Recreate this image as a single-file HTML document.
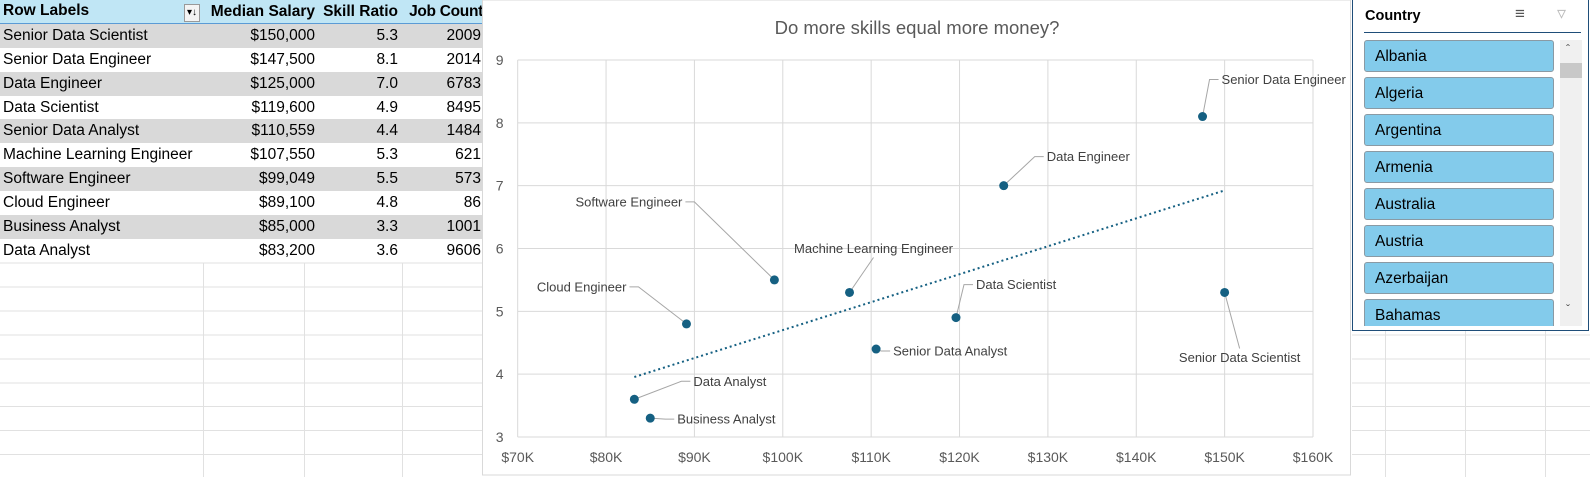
<!DOCTYPE html>
<html><head><meta charset="utf-8"><style>
body{margin:0;width:1590px;height:477px;overflow:hidden;background:#fff;font-family:"Liberation Sans",sans-serif;position:relative}
.grid{position:absolute;left:0;top:0}
table{position:absolute;left:0;top:0;border-collapse:collapse;font-size:15.5px;color:#000;table-layout:fixed}
td{height:23.9px;padding:0 3px;white-space:nowrap;box-sizing:border-box;overflow:visible}
tr.hd td{background:#c0e6f5;font-weight:bold;border-bottom:1px solid #5b9bd5}
tr.b td{background:#d9d9d9}
.r{text-align:right}
#chart{position:absolute;left:482px;top:0}
#slicer{position:absolute;left:1352px;top:0;width:237px;height:331px;border:1px solid #1f4e79;border-top:none;background:#fff;box-sizing:border-box}
.btn{position:absolute;left:11px;width:190px;height:32px;background:#83cbeb;border:1px solid #8a9aa4;border-radius:3px;font-size:15.5px;line-height:32px;padding-left:10px;box-sizing:border-box}
</style></head><body>
<svg class="grid" width="1590" height="477">
<g stroke="#e1e1e1" stroke-width="1">
<line x1="0" y1="263" x2="482" y2="263"/><line x1="0" y1="287" x2="482" y2="287"/><line x1="0" y1="311" x2="482" y2="311"/><line x1="0" y1="335" x2="482" y2="335"/><line x1="0" y1="359" x2="482" y2="359"/><line x1="0" y1="383" x2="482" y2="383"/><line x1="0" y1="406.5" x2="482" y2="406.5"/><line x1="0" y1="430.5" x2="482" y2="430.5"/><line x1="0" y1="454.5" x2="482" y2="454.5"/>
<line x1="203.5" y1="263" x2="203.5" y2="477"/><line x1="304.5" y1="263" x2="304.5" y2="477"/><line x1="402.5" y1="263" x2="402.5" y2="477"/>
<line x1="1352" y1="335" x2="1590" y2="335"/><line x1="1352" y1="359" x2="1590" y2="359"/><line x1="1352" y1="383" x2="1590" y2="383"/><line x1="1352" y1="406.5" x2="1590" y2="406.5"/><line x1="1352" y1="430.5" x2="1590" y2="430.5"/><line x1="1352" y1="454.5" x2="1590" y2="454.5"/>
<line x1="1385.5" y1="331" x2="1385.5" y2="477"/><line x1="1465.5" y1="331" x2="1465.5" y2="477"/><line x1="1545.5" y1="331" x2="1545.5" y2="477"/>
</g></svg>
<table>
<colgroup><col style="width:203px"><col style="width:115px"><col style="width:83px"><col style="width:83px"></colgroup>
<tr class="hd"><td>Row Labels <span style="float:right;border:1px solid #999;background:#f4f4f4;font-size:10px;padding:0 2px;line-height:16px;font-weight:normal;margin-top:2px">&#9662;&#8595;</span></td><td class="r">Median Salary</td><td class="r">Skill Ratio</td><td class="r" style="padding-right:1px;letter-spacing:-0.3px">Job Count</td></tr>
<tr class="b"><td>Senior Data Scientist</td><td class="r">$150,000</td><td class="r">5.3</td><td class="r">2009</td></tr>
<tr><td>Senior Data Engineer</td><td class="r">$147,500</td><td class="r">8.1</td><td class="r">2014</td></tr>
<tr class="b"><td>Data Engineer</td><td class="r">$125,000</td><td class="r">7.0</td><td class="r">6783</td></tr>
<tr><td>Data Scientist</td><td class="r">$119,600</td><td class="r">4.9</td><td class="r">8495</td></tr>
<tr class="b"><td>Senior Data Analyst</td><td class="r">$110,559</td><td class="r">4.4</td><td class="r">1484</td></tr>
<tr><td>Machine Learning Engineer</td><td class="r">$107,550</td><td class="r">5.3</td><td class="r">621</td></tr>
<tr class="b"><td>Software Engineer</td><td class="r">$99,049</td><td class="r">5.5</td><td class="r">573</td></tr>
<tr><td>Cloud Engineer</td><td class="r">$89,100</td><td class="r">4.8</td><td class="r">86</td></tr>
<tr class="b"><td>Business Analyst</td><td class="r">$85,000</td><td class="r">3.3</td><td class="r">1001</td></tr>
<tr><td>Data Analyst</td><td class="r">$83,200</td><td class="r">3.6</td><td class="r">9606</td></tr>
</table>
<svg id="chart" width="870" height="477">
<rect x="0.5" y="0" width="868" height="475" fill="#fff" stroke="#d9d9d9"/>
<text x="435" y="34" text-anchor="middle" font-size="18.5" fill="#595959">Do more skills equal more money?</text>
<g id="g"></g>
</svg>
<div id="slicer">
<div style="position:absolute;left:12px;top:8px;font-weight:bold;font-size:14.5px">Country</div>
<div style="position:absolute;left:162px;top:4px;font-size:17px;color:#555">&#8801;</div>
<div style="position:absolute;left:204px;top:3px;font-size:18px;color:#bbb">&#9663;</div>
<div style="position:absolute;left:11px;top:32px;width:217px;height:1px;background:#1f4e79"></div>
<div style="position:absolute;left:207px;top:40px;width:22px;height:286px;background:#f0f0f0">
<div style="position:absolute;left:6px;top:2px;font-size:12px;color:#555">&#710;</div>
<div style="position:absolute;left:0;top:23px;width:22px;height:15px;background:#c8c8c8"></div>
<div style="position:absolute;left:6px;top:262px;font-size:12px;color:#555">&#711;</div></div>
<div class="btn" style="top:40px">Albania</div>
<div class="btn" style="top:77px">Algeria</div>
<div class="btn" style="top:114px">Argentina</div>
<div class="btn" style="top:151px">Armenia</div>
<div class="btn" style="top:188px">Australia</div>
<div class="btn" style="top:225px">Austria</div>
<div class="btn" style="top:262px">Azerbaijan</div>
<div class="btn" style="top:299px;height:27px;border-bottom:none;border-radius:3px 3px 0 0">Bahamas</div>
</div>
<script>
const roles=["Senior Data Scientist","Senior Data Engineer","Data Engineer","Data Scientist","Senior Data Analyst","Machine Learning Engineer","Software Engineer","Cloud Engineer","Business Analyst","Data Analyst"];
const salaries=[150000,147500,125000,119600,110559,107550,99049,89100,85000,83200];
const skillRatios=[5.3,8.1,7.0,4.9,4.4,5.3,5.5,4.8,3.3,3.6];
const xTicks=[70000,80000,90000,100000,110000,120000,130000,140000,150000,160000];
const xTickLabels=["$70K","$80K","$90K","$100K","$110K","$120K","$130K","$140K","$150K","$160K"];
const yTicks=[3,4,5,6,7,8,9];
// label placement (styling): dx, dy, anchor
const lab=[[15,65,"middle"],[19,-37,"start"],[43,-29,"start"],[20,-33,"start"],[17,2,"start"],[24,-44,"middle"],[-92,-78,"end"],[-60,-37,"end"],[27,1,"start"],[59,-18,"start"]];
const OX=482,X0=517.7,X1=1313,Y0=437,Y1=60;
const sx=v=>X0+(v-70000)/90000*(X1-X0)-OX;
const sy=v=>Y0-(v-3)/6*(Y0-Y1);
const g=document.getElementById('g');const NS="http://www.w3.org/2000/svg";
function mk(t,a,p){const e=document.createElementNS(NS,t);for(const k in a)e.setAttribute(k,a[k]);(p||g).appendChild(e);return e;}
yTicks.forEach(t=>{const l=mk('line',{x1:sx(70000),x2:sx(160000),y1:sy(t),y2:sy(t),stroke:'#d9d9d9'});


const tx=mk('text',{x:sx(70000)-18,y:sy(t)+5,'text-anchor':'middle','font-size':14,fill:'#595959'});tx.textContent=t;

});
xTicks.forEach((t,i)=>{const l=mk('line',{x1:sx(t),x2:sx(t),y1:sy(9),y2:sy(3),stroke:'#d9d9d9'});


const tx=mk('text',{x:sx(t),y:462,'text-anchor':'middle','font-size':14,fill:'#595959'});tx.textContent=xTickLabels[i];

});
const n=salaries.length;let mx=0,my=0;for(let i=0;i<n;i++){mx+=salaries[i]/n;my+=skillRatios[i]/n;}
let sxy=0,sxx=0;for(let i=0;i<n;i++){sxy+=(salaries[i]-mx)*(skillRatios[i]-my);sxx+=(salaries[i]-mx)**2;}
const b=sxy/sxx,a0=my-b*mx;const xmin=Math.min(...salaries),xmax=Math.max(...salaries);
const tl=mk('line',{x1:sx(xmin),y1:sy(a0+b*xmin),x2:sx(xmax),y2:sy(a0+b*xmax),stroke:'#156082','stroke-width':2,'stroke-dasharray':'2 3'});


roles.forEach((r,i)=>{const px=sx(salaries[i]),py=sy(skillRatios[i]);const [dx,dy,an]=lab[i];const tx=px+dx,ty=py+dy;
let ex,ey,hx;
if(an==="middle"){ex=tx;ey=ty+(dy>0?-9:9);hx=ex;}
else if(an==="start"){ex=tx-12;ey=ty;hx=tx-3;}
else{ex=tx+12;ey=ty;hx=tx+3;}
const pl=mk('polyline',{points:`${px},${py} ${ex},${ey} ${hx},${ey}`,fill:'none',stroke:'#a6a6a6'});


const c=mk('circle',{cx:px,cy:py,r:4.5,fill:'#156082'});


const t=mk('text',{x:tx,y:ty+4.5,'text-anchor':an,'font-size':13,fill:'#404040'});t.textContent=r;

});
</script>
</body></html>
